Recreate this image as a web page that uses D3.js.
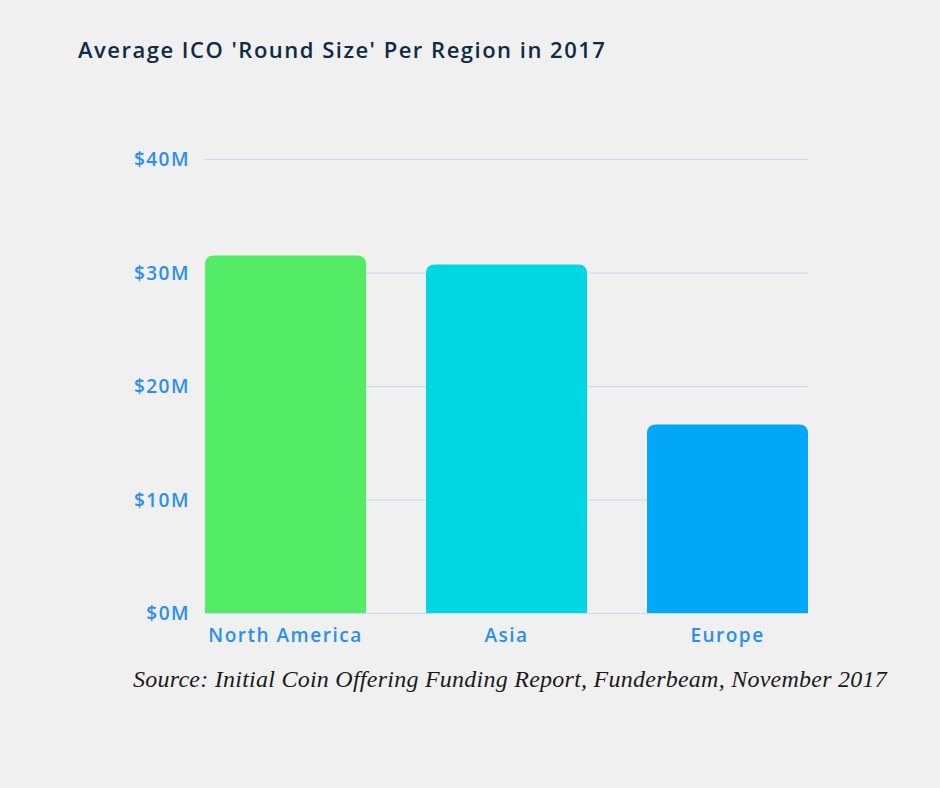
<!DOCTYPE html>
<html lang="en">
<head>
<meta charset="UTF-8">
<title>Average ICO 'Round Size' Per Region in 2017</title>
<script src="https://d3js.org/d3.v7.min.js"></script>
<style>
    body { margin: 0; background: #f0f0f0; }
    svg { display: block; background: #f0f0f0; }
    .title { font-family: "Open Sans", sans-serif; font-weight: 600; font-size: 22px; fill: #0e2a47; letter-spacing: 1.5px; }
    .tick text { font-family: "Open Sans", sans-serif; font-weight: 600; font-size: 19px; fill: #2b8ef2; letter-spacing: 1.5px; }
    .source { font-family: "Liberation Serif", serif; font-style: italic; font-size: 24px; fill: #1a1a1a; letter-spacing: 0.25px; }
</style>
</head>
<body>
<svg width="940" height="788"></svg>
<script>
    const regions = ["North America", "Asia", "Europe"];
    const roundSize = [31.5, 30.7, 16.6];   // $M
    const barColors = ["#52ec66", "#00d7e3", "#00a8f7"];
    const yTicks = [0, 10, 20, 30, 40];

    const svg = d3.select("svg");
    const margin = { left: 205, right: 132, top: 159, bottom: 175 };
    const width = 940, height = 788;

    const x = d3.scaleBand()
        .domain(regions)
        .range([margin.left, width - margin.right])
        .paddingInner(0.2715)
        .paddingOuter(0);

    const y = d3.scaleLinear()
        .domain([0, 40])
        .range([height - margin.bottom, margin.top]);

    svg.append("text")
        .attr("class", "title")
        .attr("x", 78)
        .attr("y", 58)
        .text("Average ICO 'Round Size' Per Region in 2017");

    // gridlines + y labels
    const yAxis = svg.append("g")
        .attr("transform", `translate(${margin.left},0)`)
        .call(d3.axisLeft(y).tickValues(yTicks).tickSize(0).tickPadding(15)
            .tickFormat(d => "$" + d + "M"));
    yAxis.select(".domain").remove();
    yAxis.selectAll(".tick line")
        .attr("x2", width - margin.right - margin.left)
        .attr("stroke", "#c6daf0")
        .attr("stroke-width", 1.2);
    yAxis.selectAll(".tick text").attr("dy", "0.35em");

    // bars with rounded tops
    const r = 9;
    function barPath(d, i) {
        const x0 = x(regions[i]), x1 = x0 + x.bandwidth();
        const y0 = y(0), y1 = y(d);
        return `M${x0},${y0} L${x0},${y1 + r} Q${x0},${y1} ${x0 + r},${y1}` +
            ` L${x1 - r},${y1} Q${x1},${y1} ${x1},${y1 + r} L${x1},${y0} Z`;
    }
    svg.append("g").selectAll("path")
        .data(roundSize)
        .join("path")
        .attr("d", barPath)
        .attr("fill", (d, i) => barColors[i]);

    // x labels
    const xAxis = svg.append("g")
        .attr("transform", `translate(0,${y(0)})`)
        .call(d3.axisBottom(x).tickSize(0).tickPadding(16));
    xAxis.select(".domain").remove();

    svg.append("text")
        .attr("class", "source")
        .attr("x", 133)
        .attr("y", 687)
        .text("Source: Initial Coin Offering Funding Report, Funderbeam, November 2017");
</script>
</body>
</html>
